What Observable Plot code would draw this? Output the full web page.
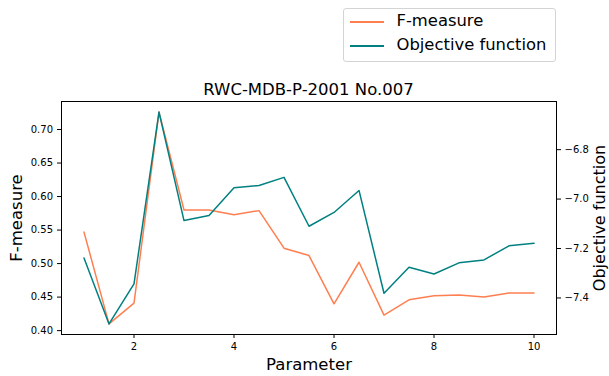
<!DOCTYPE html>
<html>
<head>
<meta charset="utf-8">
<script src="https://cdn.jsdelivr.net/npm/d3@7"></script>
<script src="https://cdn.jsdelivr.net/npm/@observablehq/plot@0.6"></script>
<style>
  body { margin: 0; background: #fff; font-family: "DejaVu Sans", sans-serif; }
  #wrap { position: relative; width: 609px; height: 376px; overflow: hidden; }
  #head { position: relative; width: 609px; height: 95px; }
  .legend { position: absolute; left: 343px; top: 8px; width: 213px; height: 54px; border: 1px solid #d4d4d4; border-radius: 3px; box-sizing: border-box; background: #fff; }
  .swatch { position: absolute; left: 350px; width: 34px; height: 1.5px; }
  .ltext { position: absolute; left: 396.5px; font-size: 16.4px; line-height: 1; white-space: nowrap; color: #000; }
  .title { position: absolute; left: 61px; width: 495px; top: 82px; text-align: center; font-size: 16.5px; line-height: 1; color: #000; white-space: nowrap; }
</style>
</head>
<body>
<div id="wrap">
  <div id="head"></div>
  <div id="chart"></div>
</div>
<script>
// ---- data ----
const params = [1, 1.5, 2, 2.5, 3, 3.5, 4, 4.5, 5, 5.5, 6, 6.5, 7, 7.5, 8, 8.5, 9, 9.5, 10];
const fmeasure = [0.547, 0.410, 0.441, 0.726, 0.580, 0.580, 0.573, 0.579, 0.523, 0.512, 0.440, 0.502, 0.423, 0.446, 0.452, 0.453, 0.450, 0.456, 0.456];
const objective = [-7.238, -7.505, -7.343, -6.648, -7.087, -7.066, -6.954, -6.945, -6.912, -7.110, -7.054, -6.965, -7.381, -7.276, -7.303, -7.258, -7.246, -7.189, -7.179];
const xTicks = [2, 4, 6, 8, 10];
const leftTicks = [0.40, 0.45, 0.50, 0.55, 0.60, 0.65, 0.70];
const rightTicks = [-7.4, -7.2, -7.0, -6.8];
const seriesNames = ["F-measure", "Objective function"];
const colors = ["coral", "teal"];
const title = "RWC-MDB-P-2001 No.007";
const xLabel = "Parameter";

// ---- helpers ----
function pad(ext, f = 0.05) { const r = ext[1] - ext[0]; return [ext[0] - r * f, ext[1] + r * f]; }
const xDomain = pad(d3.extent(params));
const fDomain = pad(d3.extent(fmeasure));
const oDomain = pad(d3.extent(objective));
const toF = d3.scaleLinear().domain(oDomain).range(fDomain);

const rows = params.map((p, i) => ({p, f: fmeasure[i], o: objective[i]}));

// ---- header: legend + title ----
const head = document.getElementById("head");
const lg = document.createElement("div"); lg.className = "legend"; head.appendChild(lg);
seriesNames.forEach((name, i) => {
  const sw = document.createElement("div");
  sw.className = "swatch"; sw.style.top = (21 + i * 24.3) + "px"; sw.style.background = colors[i];
  head.appendChild(sw);
  const t = document.createElement("div");
  t.className = "ltext"; t.style.top = (12.8 + i * 24.3) + "px"; t.textContent = name;
  head.appendChild(t);
});
const tt = document.createElement("div"); tt.className = "title"; tt.textContent = title; head.appendChild(tt);

// ---- chart ----
const fmtL = d3.format(".2f");
const fmtR = d3.format(".1f");
const chart = Plot.plot({
  width: 609,
  height: 281,
  marginTop: 6,
  marginBottom: 42,
  marginLeft: 61,
  marginRight: 53,
  style: { fontFamily: "DejaVu Sans, sans-serif", fontSize: "10px", color: "#000", background: "#fff", overflow: "visible" },
  x: { domain: xDomain, nice: false },
  y: { domain: fDomain, nice: false, zero: false },
  marks: [
    Plot.lineY(rows, { x: "p", y: "f", stroke: colors[0], strokeWidth: 1.5 }),
    Plot.lineY(rows, { x: "p", y: d => toF(d.o), stroke: colors[1], strokeWidth: 1.5 }),
    Plot.frame({ stroke: "#000", strokeWidth: 1 }),
    Plot.axisX({ ticks: xTicks, tickSize: 4, tickPadding: 4.5, tickFormat: d => String(d), label: null, fontSize: 10 }),
    Plot.axisY({ anchor: "left", ticks: leftTicks, tickSize: 4, tickPadding: 4.5, tickFormat: fmtL, label: null, fontSize: 10 }),
    Plot.axisY({ anchor: "right", ticks: rightTicks.map(v => toF(v)), tickSize: 4, tickPadding: 4, tickFormat: d => fmtR(toF.invert(d)), label: null, fontSize: 10 }),
    Plot.text([seriesNames[0]], { text: d => d, frameAnchor: "left", textAnchor: "middle", lineAnchor: "middle", dx: -45, rotate: -90, fontSize: 16.5, fill: "#000" }),
    Plot.text([seriesNames[1]], { text: d => d, frameAnchor: "right", textAnchor: "middle", lineAnchor: "middle", dx: 43.5, rotate: -90, fontSize: 16, fill: "#000" }),
    Plot.text([xLabel], { text: d => d, frameAnchor: "bottom", textAnchor: "middle", lineAnchor: "middle", dy: 30.7, fontSize: 16.5, fill: "#000" })
  ]
});
document.getElementById("chart").appendChild(chart);
</script>
</body>
</html>
